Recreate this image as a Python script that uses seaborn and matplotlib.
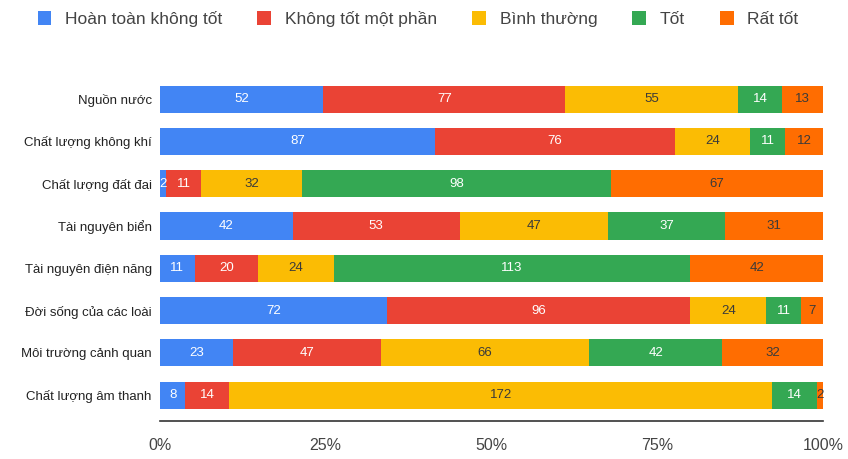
import numpy as np
import pandas as pd
import matplotlib
matplotlib.use("Agg")
import matplotlib.pyplot as plt
from matplotlib.patches import Patch
import seaborn as sns

categories = [
    "Nguồn nước",
    "Chất lượng không khí",
    "Chất lượng đất đai",
    "Tài nguyên biển",
    "Tài nguyên điện năng",
    "Đời sống của các loài",
    "Môi trường cảnh quan",
    "Chất lượng âm thanh",
]
series_names = ["Hoàn toàn không tốt", "Không tốt một phần", "Bình thường", "Tốt", "Rất tốt"]
hoan_toan_khong_tot = [52, 87, 2, 42, 11, 72, 23, 8]
khong_tot_mot_phan = [77, 76, 11, 53, 20, 96, 47, 14]
binh_thuong = [55, 24, 32, 47, 24, 24, 66, 172]
tot = [14, 11, 98, 37, 113, 11, 42, 14]
rat_tot = [13, 12, 67, 31, 42, 7, 32, 2]
tick_labels = ["0%", "25%", "50%", "75%", "100%"]

colors = ["#4285F4", "#EA4335", "#FBBC04", "#34A853", "#FF6D01"]
label_colors = ["white", "white", "#3a3a3a", "white", "#3a3a3a"]

sns.set_theme(style="white")
plt.rcParams["font.family"] = ["Liberation Sans", "DejaVu Sans"]

counts = np.array([hoan_toan_khong_tot, khong_tot_mot_phan, binh_thuong, tot, rat_tot], dtype=float)
totals = counts.sum(axis=0)
shares = counts / totals * 100
cum = np.cumsum(shares, axis=0)

fig = plt.figure(figsize=(8.48, 4.59), dpi=100)
ax = fig.add_axes([160 / 848, 1 - 421 / 459, (823 - 160) / 848, (421 - 75) / 459])

# Stack by drawing cumulative totals from the outermost segment inwards
for i in range(len(series_names) - 1, -1, -1):
    df = pd.DataFrame({"category": categories, "value": cum[i]})
    sns.barplot(data=df, x="value", y="category", orient="h", color=colors[i],
                width=0.64, saturation=1, linewidth=0, ax=ax)

for i in range(len(series_names)):
    for j, cat in enumerate(categories):
        left = cum[i][j] - shares[i][j]
        center = left + shares[i][j] / 2
        ax.text(center, j, f"{int(counts[i][j])}", ha="center", va="center",
                fontsize=9.5, color=label_colors[i])

ax.set_xlim(0, 100)
ax.set_ylim(7.61, -0.57)
ax.set_xticks([0, 25, 50, 75, 100])
ax.set_xticklabels(tick_labels, fontsize=11.5, color="#444444")
ax.tick_params(axis="y", labelsize=9.5, colors="#222222", length=0, pad=6)
ax.tick_params(axis="x", length=0, pad=12)
ax.set_xlabel("")
ax.set_ylabel("")
for side in ["top", "right", "left"]:
    ax.spines[side].set_visible(False)
ax.spines["bottom"].set_color("#333333")
ax.spines["bottom"].set_linewidth(1.2)

handles = [Patch(facecolor=c, edgecolor="none") for c in colors]
fig.legend(handles, series_names, loc="upper center", bbox_to_anchor=(0.493, 1.01),
           ncol=5, frameon=False, fontsize=12.5, handlelength=0.8, handleheight=0.9,
           columnspacing=2.0, handletextpad=0.8, labelcolor="#444444")

fig.savefig("out.png", dpi=100)
